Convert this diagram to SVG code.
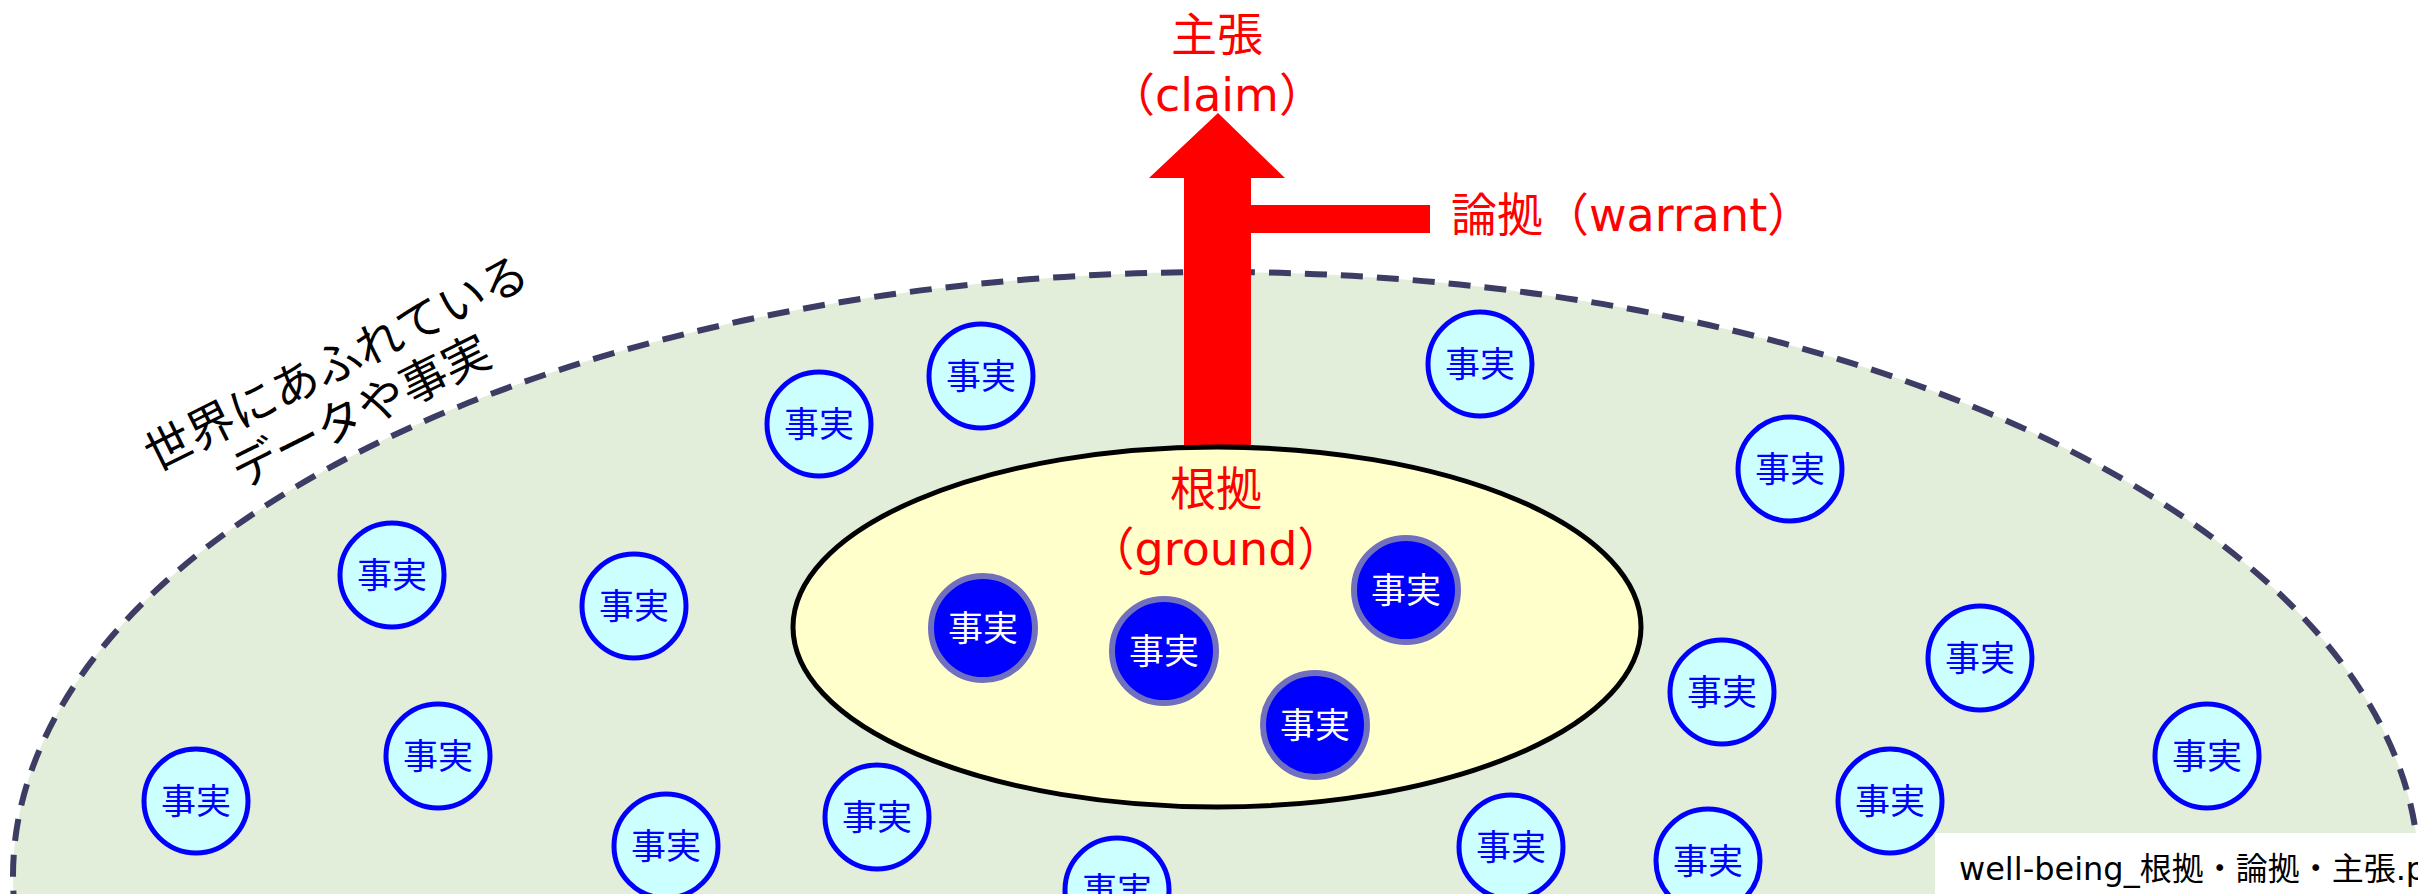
<svg xmlns="http://www.w3.org/2000/svg" width="2418" height="894" viewBox="0 0 2418 894">
<style>
.jp{font-family:"Noto Sans CJK JP","Noto Sans",sans-serif}
.lat{font-family:"DejaVu Sans","Noto Sans CJK JP",sans-serif}
.red{fill:#ff0000;font-size:46px;text-anchor:middle}
.fact{fill:#ccffff;stroke:#0000ff;stroke-width:5}
.factd{fill:#0000ff;stroke:#7070bf;stroke-width:6}
.ft{font-size:35px;text-anchor:middle;fill:#0000ff}
.ftd{font-size:35px;text-anchor:middle;fill:#ffffff}
</style>
<rect width="2418" height="894" fill="#ffffff"/>
<g id="world">
<ellipse cx="1216" cy="876" rx="1203" ry="604" fill="#e2eed9" stroke="#3c3c64" stroke-width="6" stroke-dasharray="22 14"/>
</g>
<g id="world-label" class="jp" transform="translate(348,386) rotate(-26.5)">
<text x="0" y="-9" font-size="47" text-anchor="middle" fill="#000000">世界にあふれている</text>
<text x="0" y="45" font-size="47" text-anchor="middle" fill="#000000">データや事実</text>
</g>
<g id="connectors">
<polygon points="1184,447 1184,178 1149,178 1218,113 1285,178 1251,178 1251,205 1430,205 1430,233 1251,233 1251,447" fill="#ff0000"/>
</g>
<g id="ground">
<ellipse cx="1217" cy="627" rx="424" ry="180" fill="#ffffcc" stroke="#000000" stroke-width="5"/>
<text class="jp red" x="1216" y="505">根拠</text>
<text class="lat red" x="1216" y="565">（ground）</text>
</g>
<g id="claim"><text class="jp red" x="1217" y="51">主張</text><text class="lat red" x="1217" y="111">（claim）</text></g>
<g id="warrant"><text class="lat" x="1451" y="231" font-size="46" fill="#ff0000">論拠（warrant）</text></g>
<g id="f1"><circle class="fact" cx="981" cy="376" r="52"/><text class="jp ft" x="981" y="389">事実</text></g>
<g id="f2"><circle class="fact" cx="819" cy="424" r="52"/><text class="jp ft" x="819" y="437">事実</text></g>
<g id="f3"><circle class="fact" cx="1480" cy="364" r="52"/><text class="jp ft" x="1480" y="377">事実</text></g>
<g id="f4"><circle class="fact" cx="1790" cy="469" r="52"/><text class="jp ft" x="1790" y="482">事実</text></g>
<g id="f5"><circle class="fact" cx="392" cy="575" r="52"/><text class="jp ft" x="392" y="588">事実</text></g>
<g id="f6"><circle class="fact" cx="634" cy="606" r="52"/><text class="jp ft" x="634" y="619">事実</text></g>
<g id="f7"><circle class="fact" cx="1980" cy="658" r="52"/><text class="jp ft" x="1980" y="671">事実</text></g>
<g id="f8"><circle class="fact" cx="1722" cy="692" r="52"/><text class="jp ft" x="1722" y="705">事実</text></g>
<g id="f9"><circle class="fact" cx="196" cy="801" r="52"/><text class="jp ft" x="196" y="814">事実</text></g>
<g id="f10"><circle class="fact" cx="438" cy="756" r="52"/><text class="jp ft" x="438" y="769">事実</text></g>
<g id="f11"><circle class="fact" cx="666" cy="846" r="52"/><text class="jp ft" x="666" y="859">事実</text></g>
<g id="f12"><circle class="fact" cx="877" cy="817" r="52"/><text class="jp ft" x="877" y="830">事実</text></g>
<g id="f13"><circle class="fact" cx="1117" cy="890" r="52"/><text class="jp ft" x="1117" y="903">事実</text></g>
<g id="f14"><circle class="fact" cx="1511" cy="847" r="52"/><text class="jp ft" x="1511" y="860">事実</text></g>
<g id="f15"><circle class="fact" cx="1708" cy="861" r="52"/><text class="jp ft" x="1708" y="874">事実</text></g>
<g id="f16"><circle class="fact" cx="1890" cy="801" r="52"/><text class="jp ft" x="1890" y="814">事実</text></g>
<g id="f17"><circle class="fact" cx="2207" cy="756" r="52"/><text class="jp ft" x="2207" y="769">事実</text></g>
<g id="d1"><circle class="factd" cx="983" cy="628" r="52"/><text class="jp ftd" x="983" y="641">事実</text></g>
<g id="d2"><circle class="factd" cx="1164" cy="651" r="52"/><text class="jp ftd" x="1164" y="664">事実</text></g>
<g id="d3"><circle class="factd" cx="1406" cy="590" r="52"/><text class="jp ftd" x="1406" y="603">事実</text></g>
<g id="d4"><circle class="factd" cx="1315" cy="725" r="52"/><text class="jp ftd" x="1315" y="738">事実</text></g>
<g id="footer">
<rect x="1935" y="833" width="483" height="61" fill="#ffffff"/>
<text class="lat" x="1959" y="880" font-size="32" fill="#000000">well-being_根拠・論拠・主張.pp</text>
</g>
</svg>
